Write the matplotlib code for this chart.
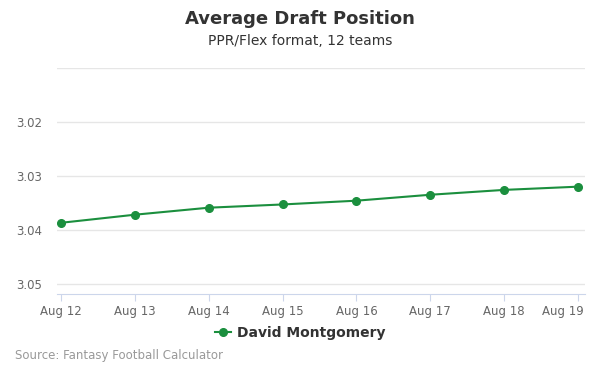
import matplotlib
matplotlib.use('Agg')
import matplotlib.pyplot as plt
import matplotlib.transforms as mtransforms
from matplotlib.lines import Line2D

# data
days = [12, 13, 14, 15, 16, 17, 18, 19]
day_labels = ['Aug 12', 'Aug 13', 'Aug 14', 'Aug 15', 'Aug 16', 'Aug 17', 'Aug 18', 'Aug 19']
adp = [3.0387, 3.0372, 3.0359, 3.0353, 3.0346, 3.0335, 3.0326, 3.0320]
y_ticks = [3.01, 3.02, 3.03, 3.04, 3.05]
y_labels = ['', '3.02', '3.03', '3.04', '3.05']
player = 'David Montgomery'

green = '#1b8f3e'

fig = plt.figure(figsize=(6, 3.75), dpi=100)
ax = fig.add_axes([57 / 600, 1 - 294 / 375, 528 / 600, 226 / 375])

ax.plot(days, adp, color=green, lw=1.5, marker='o', ms=5.5, zorder=3)

ax.set_xlim(11.946, 19.095)
ax.set_ylim(3.0519, 3.01)
ax.set_yticks(y_ticks)
ax.set_yticklabels(y_labels)
ax.set_xticks(days)
ax.set_xticklabels(day_labels)

ax.grid(axis='y', color='#e6e6e6', lw=1)
ax.set_axisbelow(True)
for side in ['top', 'right', 'left']:
    ax.spines[side].set_visible(False)
ax.spines['bottom'].set_color('#ccd6eb')
ax.tick_params(axis='y', length=0, pad=10.8, labelsize=8.5, labelcolor='#666666')
ax.tick_params(axis='x', length=5, color='#ccd6eb', labelsize=8.5, labelcolor='#666666', pad=3)

# last label pushed inside the chart, like the reference
last = ax.get_xticklabels()[-1]
last.set_transform(last.get_transform() + mtransforms.ScaledTranslation(-15 / 100, 0, fig.dpi_scale_trans))

fig.text(0.5, 1 - 19 / 375, 'Average Draft Position', ha='center', va='center',
         fontsize=13, fontweight='bold', color='#333333')
fig.text(0.5, 1 - 41 / 375, 'PPR/Flex format, 12 teams', ha='center', va='center',
         fontsize=10, color='#333333')

handle = Line2D([], [], color=green, marker='o', ms=5.5, lw=1.5)
fig.legend([handle], [player], loc='center', bbox_to_anchor=(0.5, 1 - 333 / 375),
           frameon=False, prop={'weight': 'bold', 'size': 10}, handlelength=1.2,
           handletextpad=0.4, labelcolor='#333333')

fig.text(15 / 600, 1 - 356 / 375, 'Source: Fantasy Football Calculator', ha='left', va='center',
         fontsize=8.5, color='#999999')

fig.savefig('out.png', dpi=100)
